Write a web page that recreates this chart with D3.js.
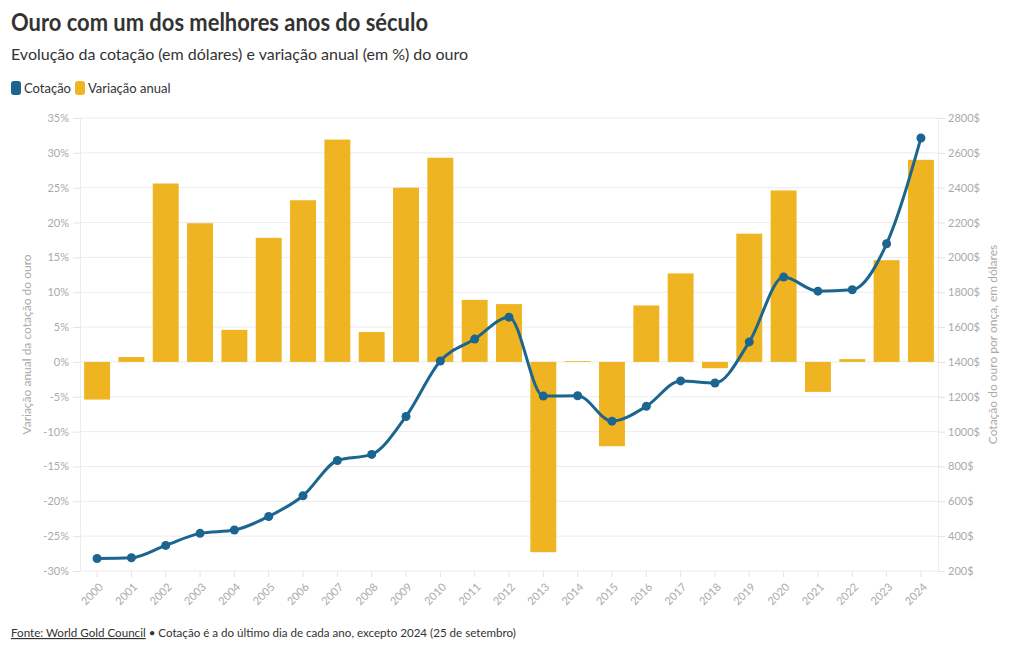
<!DOCTYPE html>
<html><head><meta charset="utf-8">
<script src="https://cdn.jsdelivr.net/npm/d3@7"></script>
<style>
body{margin:0;background:#fff;}
svg text{font-family:"Lato","Noto Sans",sans-serif;}
</style></head><body>
<svg id="c" width="1020" height="650"></svg>
<script>
const years = ["2000","2001","2002","2003","2004","2005","2006","2007","2008","2009","2010","2011","2012","2013","2014","2015","2016","2017","2018","2019","2020","2021","2022","2023","2024"];
const variacao = [-5.4,0.7,25.6,19.9,4.6,17.8,23.2,31.9,4.3,25.0,29.3,8.9,8.3,-27.3,0.1,-12.1,8.1,12.7,-0.9,18.4,24.6,-4.3,0.4,14.6,29.0];
const cotacao = [272,276,347,416,435,513,632,834,869,1087,1405,1531,1657,1204,1206,1060,1145,1291,1279,1515,1887,1806,1814,2078,2685];
const leftTicks = [-30,-25,-20,-15,-10,-5,0,5,10,15,20,25,30,35];
const rightTicks = [200,400,600,800,1000,1200,1400,1600,1800,2000,2200,2400,2600,2800];

const svg = d3.select("#c");
const m = {l:80, r:938, t:118, b:571};
const x = d3.scaleBand().domain(years).range([m.l, m.r]).paddingInner(0.245).paddingOuter(0.12);
const yL = d3.scaleLinear().domain([-30,35]).range([m.b, m.t]);
const yR = d3.scaleLinear().domain([200,2800]).range([m.b, m.t]);
const cx = d=>x(d)+x.bandwidth()/2;

// grid
svg.append("g").selectAll("line").data(leftTicks).join("line")
  .attr("x1", m.l).attr("x2", m.r).attr("y1", d=>yL(d)).attr("y2", d=>yL(d))
  .attr("stroke", "#ececec").attr("stroke-width", 1);
svg.append("line").attr("x1",m.l+0.5).attr("x2",m.l+0.5).attr("y1",m.t).attr("y2",m.b).attr("stroke","#ececec");
svg.append("line").attr("x1",m.r+0.5).attr("x2",m.r+0.5).attr("y1",m.t).attr("y2",m.b).attr("stroke","#ececec");

// axes
const gL = svg.append("g").attr("transform", `translate(${m.l},0)`)
  .call(d3.axisLeft(yL).tickValues(leftTicks).tickFormat(d=>d+"%").tickSize(7).tickPadding(4));
const gR = svg.append("g").attr("transform", `translate(${m.r},0)`)
  .call(d3.axisRight(yR).tickValues(rightTicks).tickFormat(d=>d+"$").tickSize(7).tickPadding(3));
const gX = svg.append("g").attr("transform", `translate(0,${m.b})`)
  .call(d3.axisBottom(x).tickSize(6).tickFormat(""));
[gL,gR,gX].forEach(g=>{
  g.select(".domain").remove();
  g.selectAll(".tick line").attr("stroke","#e4e4e4");
  g.selectAll(".tick text").attr("fill","#aaaaaa").style("font-size","11px");
});
svg.append("g").selectAll("text").data(years).join("text")
  .attr("transform", d=>`translate(${cx(d)+4},${m.b+14}) rotate(-45)`)
  .attr("text-anchor","end").attr("dy","0.35em")
  .attr("fill","#aaaaaa").style("font-size","11px").text(d=>d);

// bars
svg.append("g").selectAll("rect").data(years).join("rect")
  .attr("x", d=>x(d)).attr("width", x.bandwidth())
  .attr("y", (d,i)=>yL(Math.max(0,variacao[i])))
  .attr("height", (d,i)=>Math.max(0.8, Math.abs(yL(variacao[i])-yL(0))))
  .attr("fill", "#eeb422");

// line
const line = d3.line().x((d,i)=>cx(years[i])).y(d=>yR(d)).curve(d3.curveMonotoneX);
svg.append("path").datum(cotacao).attr("d", line).attr("fill","none")
  .attr("stroke","#1b6590").attr("stroke-width",3);
svg.append("g").selectAll("circle").data(cotacao).join("circle")
  .attr("cx",(d,i)=>cx(years[i])).attr("cy",d=>yR(d)).attr("r",4.5).attr("fill","#1b6590");

// axis titles
svg.append("text").attr("transform",`translate(31,${(m.t+m.b)/2}) rotate(-90)`)
  .attr("text-anchor","middle").attr("fill","#aaaaaa").style("font-size","12px")
  .text("Variação anual da cotação do ouro");
svg.append("text").attr("transform",`translate(997,${(m.t+m.b)/2}) rotate(-90)`)
  .attr("text-anchor","middle").attr("fill","#aaaaaa").style("font-size","12px")
  .text("Cotação do ouro por onça, em dólares");

// title
svg.append("text").attr("x",11).attr("y",31).attr("fill","#333").style("font-size","24px").style("font-weight","bold")
  .attr("textLength",417).attr("lengthAdjust","spacingAndGlyphs").text("Ouro com um dos melhores anos do século");
svg.append("text").attr("x",11).attr("y",60).attr("fill","#333").style("font-size","16px")
  .text("Evolução da cotação (em dólares) e variação anual (em %) do ouro");

// legend
const leg = [{t:"Cotação",c:"#1b6590",x:11},{t:"Variação anual",c:"#eeb422",x:75}];
leg.forEach(l=>{
  svg.append("rect").attr("x",l.x).attr("y",81).attr("width",10).attr("height",14).attr("rx",3).attr("fill",l.c);
  svg.append("text").attr("x",l.x+13).attr("y",93).attr("fill","#333").style("font-size","13px").text(l.t);
});

// footer
const f = svg.append("text").attr("x",11).attr("y",637).attr("fill","#333").style("font-size","11.6px");
f.append("tspan").style("text-decoration","underline").text("Fonte: World Gold Council");
f.append("tspan").text(" • Cotação é a do último dia de cada ano, excepto 2024 (25 de setembro)");
</script></body></html>
